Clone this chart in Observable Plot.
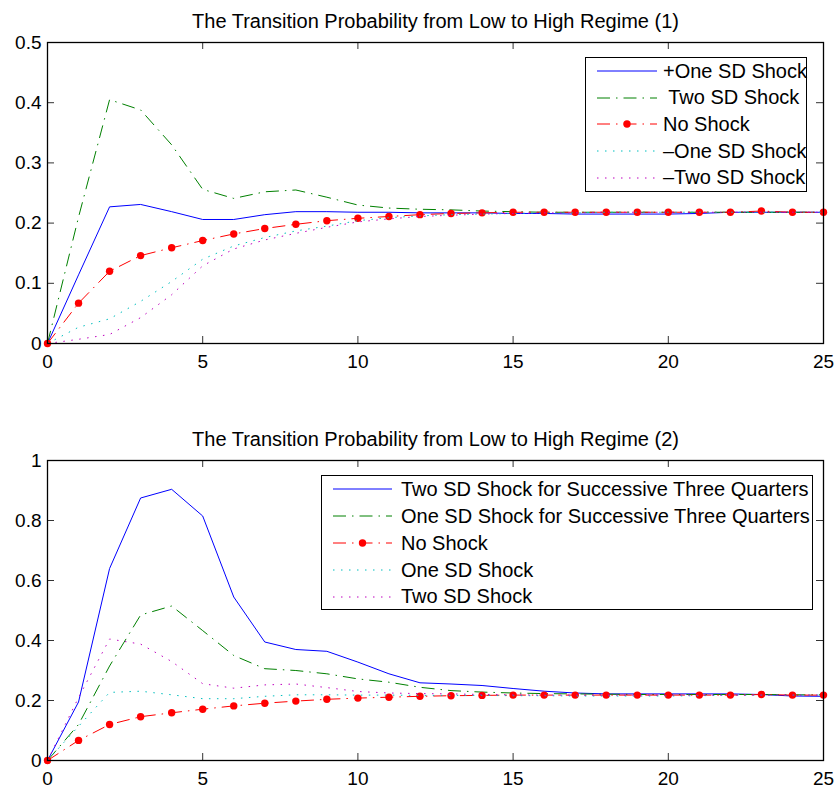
<!DOCTYPE html>
<html><head><meta charset="utf-8">
<script src="https://cdn.jsdelivr.net/npm/d3@7"></script>
<script src="https://cdn.jsdelivr.net/npm/@observablehq/plot@0.6"></script>
<style>
body{margin:0;background:#fff;}
#wrap{position:relative;width:836px;height:791px;font-family:"Liberation Sans",Arial,Helvetica,sans-serif;}
#wrap svg{display:block;}
.legend{position:absolute;background:#fff;border:1.3px solid #000;box-sizing:border-box;}
.row{position:absolute;left:0;height:26px;display:flex;align-items:center;white-space:pre;font-size:20px;color:#000;}
.row svg{display:block;}
</style></head><body><div id="wrap"></div>
<script>
// ---------- data ----------
const steps = [0,1,2,3,4,5,6,7,8,9,10,11,12,13,14,15,16,17,18,19,20,21,22,23,24,25];
const oneSD   = [0,0.114,0.227,0.231,0.219,0.206,0.206,0.214,0.219,0.219,0.218,0.218,0.217,0.217,0.217,0.216,0.216,0.215,0.215,0.215,0.215,0.216,0.218,0.218,0.218,0.218];
const twoSD   = [0,0.21,0.405,0.388,0.33,0.256,0.241,0.252,0.255,0.243,0.23,0.225,0.223,0.222,0.22,0.219,0.218,0.218,0.218,0.218,0.218,0.218,0.218,0.218,0.218,0.218];
const noShock = [0,0.067,0.12,0.146,0.159,0.171,0.182,0.191,0.198,0.204,0.208,0.211,0.214,0.216,0.217,0.218,0.218,0.218,0.218,0.218,0.218,0.218,0.218,0.22,0.218,0.218];
const minusOneSD = [0,0.027,0.041,0.07,0.103,0.14,0.162,0.176,0.187,0.195,0.204,0.209,0.212,0.214,0.215,0.216,0.217,0.217,0.218,0.218,0.218,0.218,0.218,0.218,0.218,0.218];
const minusTwoSD = [0,0.007,0.015,0.043,0.081,0.129,0.157,0.172,0.183,0.193,0.202,0.207,0.211,0.213,0.215,0.216,0.217,0.217,0.218,0.218,0.218,0.218,0.218,0.218,0.218,0.218];
const twoSD3Q = [0,0.195,0.64,0.875,0.904,0.815,0.545,0.395,0.37,0.364,0.328,0.289,0.259,0.255,0.25,0.24,0.231,0.225,0.222,0.222,0.222,0.222,0.222,0.22,0.215,0.214];
const oneSD3Q = [0,0.12,0.315,0.485,0.515,0.433,0.35,0.306,0.3,0.289,0.272,0.261,0.244,0.233,0.228,0.225,0.223,0.222,0.221,0.22,0.22,0.22,0.22,0.22,0.219,0.219];

const title1 = "The Transition Probability from Low to High Regime (1)";
const title2 = "The Transition Probability from Low to High Regime (2)";
const xTicks = [0,5,10,15,20,25];
const xTickLabels = ["0","5","10","15","20","25"];
const yTicks1 = [0,0.1,0.2,0.3,0.4,0.5];
const yTickLabels1 = ["0","0.1","0.2","0.3","0.4","0.5"];
const yTicks2 = [0,0.2,0.4,0.6,0.8,1];
const yTickLabels2 = ["0","0.2","0.4","0.6","0.8","1"];
const legend1Labels = ["+One SD Shock"," Two SD Shock","No Shock","\u2013One SD Shock","\u2013Two SD Shock"];
const legend2Labels = ["Two SD Shock for Successive Three Quarters","One SD Shock for Successive Three Quarters","No Shock","One SD Shock","Two SD Shock"];

// ---------- styles ----------
const S = {
  solid:   {stroke:"#0000ff", dash:null},
  dashdot: {stroke:"#008000", dash:"13,6,1.5,6"},
  red:     {stroke:"#ff0000", dash:"13,6,1.5,6", marker:true},
  dotC:    {stroke:"#00bfbf", dash:"1.5,6.5"},
  dotM:    {stroke:"#bf00bf", dash:"1.5,6.5"}
};
const FONT = '"Liberation Sans", Arial, Helvetica, sans-serif';
const toRows = arr => steps.map((s,i)=>({step:s, value:arr[i]}));

function panel(series, yDomain, yTicks, yLabels, title, opts){
  const {height, marginTop, marginBottom} = opts;
  const marginLeft = 47, marginRight = 13, width = 836;
  const fw = width - marginLeft - marginRight;
  const fh = height - marginTop - marginBottom;
  const tl = 7;
  const marks = [];
  for (const s of series){
    const data = toRows(s.values);
    marks.push(Plot.line(data, {x:"step", y:"value", stroke:s.style.stroke, strokeWidth:1, strokeDasharray:s.style.dash, strokeLinejoin:"miter", strokeLinecap:"butt"}));
    if (s.style.marker) marks.push(Plot.dot(data, {x:"step", y:"value", r:3.7, fill:s.style.stroke, stroke:"none"}));
  }
  marks.push(
    Plot.tickX(xTicks, {x:d=>d, stroke:"#333", insetTop: fh - tl}),
    Plot.tickX(xTicks, {x:d=>d, stroke:"#333", insetBottom: fh - tl}),
    Plot.tickY(yTicks, {y:d=>d, stroke:"#333", insetRight: fw - tl}),
    Plot.tickY(yTicks, {y:d=>d, stroke:"#333", insetLeft: fw - tl}),
    Plot.frame({stroke:"#000", strokeWidth:1.3}),
    Plot.axisX({ticks:xTicks, tickSize:0, tickPadding:11, tickFormat:(d,i)=>xTickLabels[i], label:null, fontSize:19, fill:"#000"}),
    Plot.axisY({ticks:yTicks, tickSize:0, tickPadding:6, tickFormat:(d,i)=>yLabels[i], label:null, fontSize:19, fill:"#000"}),
    Plot.text([title], {frameAnchor:"top", lineAnchor:"bottom", dy:-15, fontSize:20, fill:"#000", text:d=>d})
  );
  return Plot.plot({
    width, height, marginLeft, marginRight, marginTop, marginBottom,
    style:{fontFamily:FONT, color:"#000", background:"#fff", overflow:"visible"},
    x:{domain:[0,25]},
    y:{domain:yDomain},
    marks
  });
}

function legend(labels, styles, box){
  const div = document.createElement("div");
  div.className = "legend";
  Object.assign(div.style, {left:box.left+"px", top:box.top+"px", width:box.width+"px", height:box.height+"px"});
  labels.forEach((lab,i)=>{
    const st = styles[i];
    const row = document.createElement("div");
    row.className = "row";
    row.style.top = (box.first + i*box.step - 13) + "px";
    const ns = "http://www.w3.org/2000/svg";
    const svg = document.createElementNS(ns,"svg");
    svg.setAttribute("width", box.textX); svg.setAttribute("height", 26);
    const ln = document.createElementNS(ns,"line");
    ln.setAttribute("x1", box.s0); ln.setAttribute("x2", box.s1);
    ln.setAttribute("y1", 13); ln.setAttribute("y2", 13);
    ln.setAttribute("stroke", st.stroke); ln.setAttribute("stroke-width", 1);
    if (st.dash) ln.setAttribute("stroke-dasharray", st.dash);
    svg.appendChild(ln);
    if (st.marker){
      const c = document.createElementNS(ns,"circle");
      c.setAttribute("cx",(box.s0+box.s1)/2); c.setAttribute("cy",13); c.setAttribute("r",3.7); c.setAttribute("fill",st.stroke);
      svg.appendChild(c);
    }
    row.appendChild(svg);
    const sp = document.createElement("span");
    sp.textContent = lab;
    row.appendChild(sp);
    div.appendChild(row);
  });
  return div;
}

const wrap = document.getElementById("wrap");
const p1 = panel([
  {values:oneSD, style:S.solid},
  {values:twoSD, style:S.dashdot},
  {values:noShock, style:S.red},
  {values:minusOneSD, style:S.dotC},
  {values:minusTwoSD, style:S.dotM}
], [0,0.5], yTicks1, yTickLabels1, title1, {height:390, marginTop:42, marginBottom:47});
const p2 = panel([
  {values:twoSD3Q, style:S.solid},
  {values:oneSD3Q, style:S.dashdot},
  {values:noShock, style:S.red},
  {values:oneSD, style:S.dotC},
  {values:twoSD, style:S.dotM}
], [0,1], yTicks2, yTickLabels2, title2, {height:401, marginTop:70, marginBottom:31});
wrap.appendChild(p1);
wrap.appendChild(p2);
const styles = [S.solid, S.dashdot, S.red, S.dotC, S.dotM];
wrap.appendChild(legend(legend1Labels, styles, {left:585, top:57, width:222, height:135, first:13, step:26.7, s0:11, s1:71, textX:77}));
wrap.appendChild(legend(legend2Labels, styles, {left:321, top:475, width:492, height:135, first:13.3, step:26.9, s0:11, s1:70, textX:79}));
</script></body></html>
